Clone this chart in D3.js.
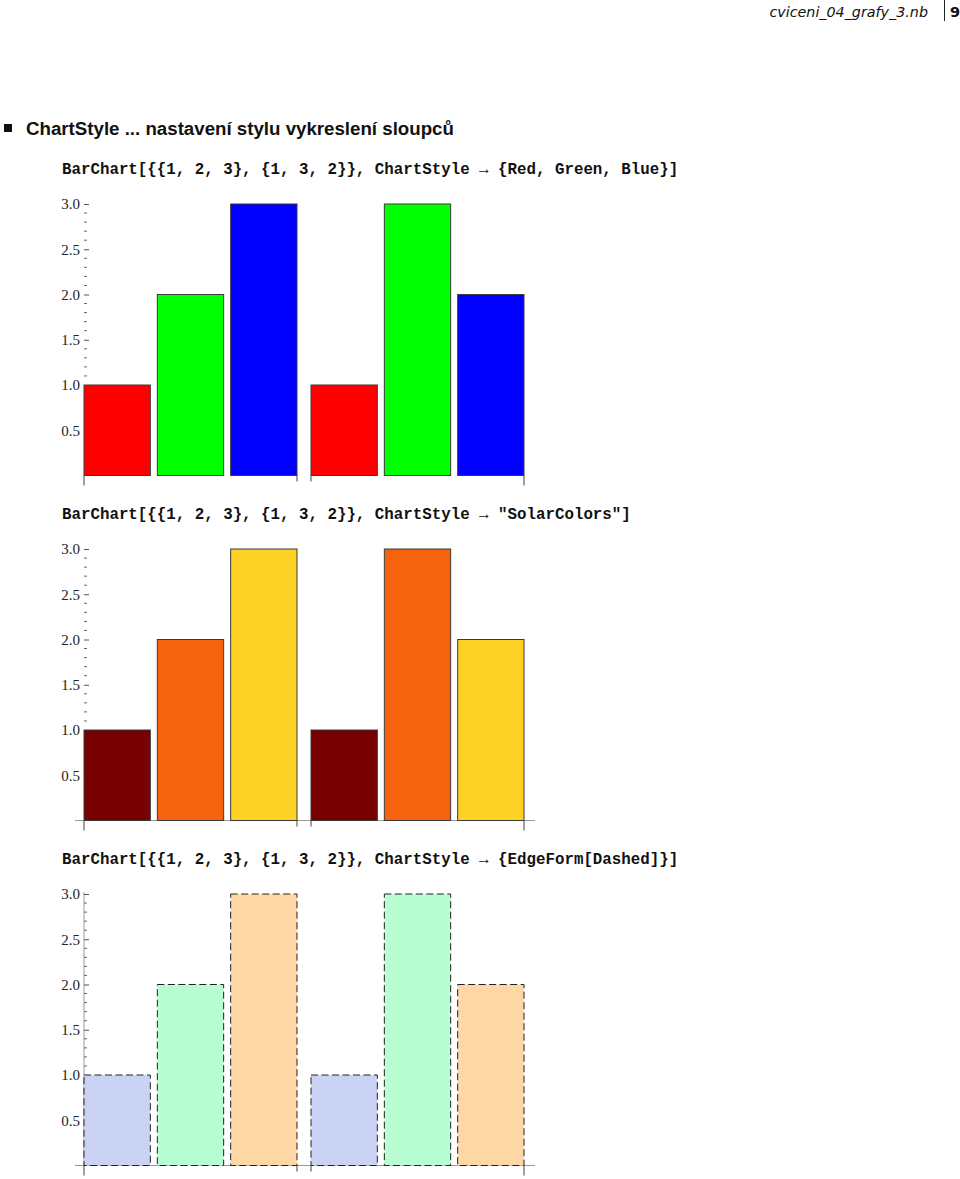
<!DOCTYPE html>
<html>
<head>
<meta charset="utf-8">
<script src="https://cdn.jsdelivr.net/npm/d3@7"></script>
<style>
  body { margin: 0; background: #fff; }
  .code { font-family: "Liberation Mono", "Courier New", monospace; font-weight: bold; font-size: 15.8px; fill: #111; }
  .tick-label { font-family: "Liberation Serif", "Times New Roman", serif; font-size: 15px; fill: #222; }
</style>
</head>
<body>
<div id="page"></div>
<script>
// data: two groups of bars
const groups = ['g1', 'g2'];
const groupValues = [[1, 2, 3], [1, 3, 2]];
const yTicks = [0.5, 1.0, 1.5, 2.0, 2.5, 3.0];

// chart style per panel
const codeLines = [
  'BarChart[{{1, 2, 3}, {1, 3, 2}}, ChartStyle \u2192 {Red, Green, Blue}]',
  'BarChart[{{1, 2, 3}, {1, 3, 2}}, ChartStyle \u2192 "SolarColors"]',
  'BarChart[{{1, 2, 3}, {1, 3, 2}}, ChartStyle \u2192 {EdgeForm[Dashed]}]'
];
const rgbColors = ['#ff0000', '#00ff00', '#0000ff'];
const solarColors = ['#780000', '#f6630f', '#fdd224'];
const defaultColors = ['#cbd3f4', '#b9fdd3', '#fdd8a6'];

/**
 * class for one bar chart panel
*/
class BarPanel {
  /**
  * constructor
  * @param {object} svg d3 selection
  * @param {number} top y of the value 3.0
  * @param {array} colors bar fill colors
  * @param {object} opts style options
  */
  constructor(svg, top, colors, opts) {
    this.svg = svg;
    this.top = top;
    this.colors = colors;
    this.opts = opts;
    this.left = 84;
    this.right = 524;
    this.baseline = top + 271.5;

    this.y = d3.scaleLinear()
      .domain([0, 3])
      .range([this.baseline, this.top]);

    this.x0 = d3.scaleBand()
      .domain(groups)
      .range([this.left, this.right])
      .paddingInner(0.0617);

    this.x1 = d3.scaleBand()
      .domain([0, 1, 2])
      .range([0, this.x0.bandwidth()])
      .paddingInner(0.0955);
  }

  /** draws the panel */
  draw() {
    let self = this;
    let g = this.svg.append('g');

    // axis lines
    if (this.opts.xLine) {
      g.append('line')
        .attr('x1', this.left - 9).attr('x2', this.right + 11)
        .attr('y1', this.baseline).attr('y2', this.baseline)
        .attr('stroke', '#999').attr('stroke-width', 1);
    }
    if (this.opts.yLine) {
      g.append('line')
        .attr('x1', this.left).attr('x2', this.left)
        .attr('y1', this.top - 2).attr('y2', this.baseline)
        .attr('stroke', '#999').attr('stroke-width', 1);
    }

    // minor ticks every 0.1
    let minor = d3.range(1, 31).map(d => d / 10)
      .filter(d => yTicks.indexOf(d) < 0);
    g.selectAll('.minor')
      .data(minor)
      .enter().append('line')
      .attr('x1', this.left).attr('x2', this.left + 3)
      .attr('y1', d => this.y(d)).attr('y2', d => this.y(d))
      .attr('stroke', '#666').attr('stroke-width', 1);

    let yAxis = d3.axisRight(this.y)
      .tickValues(yTicks)
      .tickSize(5)
      .tickFormat(d3.format('.1f'));
    let ya = g.append('g')
      .attr('transform', 'translate(' + this.left + ',0)')
      .call(yAxis);
    ya.select('.domain').remove();
    ya.selectAll('.tick line').attr('stroke', '#555');
    ya.selectAll('.tick text')
      .attr('class', 'tick-label')
      .attr('x', -4)
      .attr('text-anchor', 'end')
      .attr('fill', null);

    // bars
    let gg = g.selectAll('.grp')
      .data(groupValues)
      .enter().append('g')
      .attr('transform', (d, i) => 'translate(' + this.x0(groups[i]) + ',0)');

    gg.selectAll('rect')
      .data(d => d)
      .enter().append('rect')
      .attr('x', (d, i) => self.x1(i))
      .attr('y', d => self.y(d))
      .attr('width', self.x1.bandwidth())
      .attr('height', d => self.baseline - self.y(d))
      .attr('fill', (d, i) => self.colors[i])
      .attr('stroke', this.opts.dashed ? '#222' : '#3a3a3a')
      .attr('stroke-width', 1)
      .attr('stroke-dasharray', this.opts.dashed ? '7,3.5' : null);

    // group ticks below the axis
    let edges = [
      [this.x0(groups[0]), 10],
      [this.x0(groups[0]) + this.x0.bandwidth(), 6],
      [this.x0(groups[1]), 6],
      [this.x0(groups[1]) + this.x0.bandwidth(), 10]
    ];
    g.selectAll('.xtick')
      .data(edges)
      .enter().append('line')
      .attr('x1', d => d[0]).attr('x2', d => d[0])
      .attr('y1', this.baseline).attr('y2', d => this.baseline + d[1])
      .attr('stroke', '#444').attr('stroke-width', 1);
  }
}

let svg = d3.select('#page')
  .append('svg')
  .attr('width', 960)
  .attr('height', 1179);

// page header
svg.append('text')
  .attr('x', 928).attr('y', 17)
  .attr('text-anchor', 'end')
  .style('font-family', '"DejaVu Sans", sans-serif')
  .style('font-style', 'italic')
  .style('font-size', '14.3px')
  .attr('fill', '#111')
  .text('cviceni_04_grafy_3.nb');
svg.append('line')
  .attr('x1', 944.5).attr('x2', 944.5)
  .attr('y1', 0).attr('y2', 21)
  .attr('stroke', '#222');
svg.append('text')
  .attr('x', 950).attr('y', 17)
  .style('font-family', '"DejaVu Sans", sans-serif')
  .style('font-weight', 'bold')
  .style('font-size', '14.5px')
  .attr('fill', '#111')
  .text('9');

// section title
svg.append('rect')
  .attr('x', 4).attr('y', 124)
  .attr('width', 8).attr('height', 8)
  .attr('fill', '#111');
svg.append('text')
  .attr('x', 26).attr('y', 134.5)
  .style('font-family', '"Liberation Sans", Arial, sans-serif')
  .style('font-weight', 'bold')
  .style('font-size', '18.7px')
  .attr('fill', '#111')
  .text('ChartStyle ... nastavení stylu vykreslení sloupců');

let panelOpts = [
  {xLine: false, yLine: false, dashed: false},
  {xLine: true, yLine: false, dashed: false},
  {xLine: true, yLine: true, dashed: true}
];
let panelColors = [rgbColors, solarColors, defaultColors];

codeLines.forEach(function(c, i) {
  let off = i * 345;
  svg.append('text')
    .attr('class', 'code')
    .attr('x', 62).attr('y', 174 + off)
    .text(c);

  let p = new BarPanel(svg, 204 + off, panelColors[i], panelOpts[i]);
  p.draw();
});
</script>
</body>
</html>
